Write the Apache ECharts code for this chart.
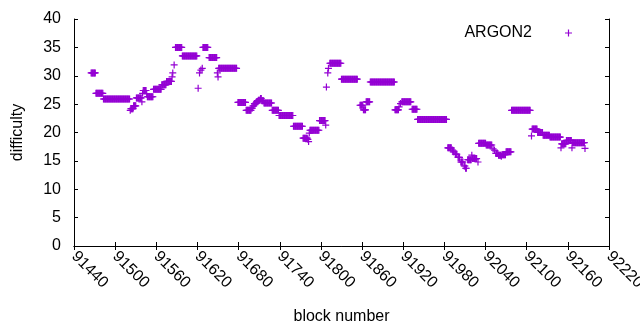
<!DOCTYPE html>
<html>
<head>
<meta charset="utf-8">
<script src="https://cdn.jsdelivr.net/npm/echarts@6/dist/echarts.min.js"></script>
<style>
html, body { margin: 0; padding: 0; background: #fff; }
#chart { width: 640px; height: 330px; }
</style>
</head>
<body>
<div id="chart"></div>
<script>
// runs of consecutive blocks with the same difficulty
var runStart = [91465, 91472, 91483, 91522, 91523, 91527, 91531, 91539, 91540, 91541, 91546, 91547, 91556, 91568, 91575, 91583, 91584, 91586, 91588, 91598,
  91621, 91623, 91625, 91627, 91628, 91637, 91649, 91650, 91651, 91679, 91691, 91699, 91701, 91703, 91706, 91709, 91712, 91714, 91717, 91729,
  91739, 91760, 91774, 91781, 91782, 91783, 91784, 91798, 91807, 91808, 91810, 91811, 91813, 91830, 91857, 91862, 91866, 91872, 91908, 91914,
  91916, 91918, 91933, 91941, 91985, 91992, 91993, 91996, 92000, 92004, 92009, 92011, 92014, 92020, 92021, 92029, 92030, 92041, 92051, 92053,
  92055, 92059, 92063, 92064, 92070, 92078, 92107, 92108, 92116, 92124, 92134, 92150, 92151, 92158, 92166, 92167, 92185];
var runEnd = [91471, 91482, 91521, 91522, 91526, 91530, 91538, 91539, 91540, 91545, 91546, 91555, 91567, 91574, 91582, 91583, 91584, 91586, 91597, 91619,
  91621, 91623, 91625, 91627, 91635, 91648, 91649, 91650, 91677, 91690, 91698, 91700, 91702, 91705, 91708, 91711, 91713, 91716, 91728, 91738,
  91759, 91773, 91780, 91781, 91782, 91783, 91797, 91806, 91807, 91808, 91810, 91811, 91829, 91853, 91861, 91865, 91871, 91907, 91913, 91914,
  91916, 91931, 91940, 91983, 91990, 91992, 91994, 91998, 92002, 92007, 92010, 92012, 92019, 92020, 92027, 92029, 92040, 92049, 92051, 92053,
  92058, 92062, 92063, 92069, 92077, 92105, 92107, 92115, 92123, 92133, 92149, 92150, 92157, 92165, 92166, 92184, 92185];
var runDifficulty = [30.5, 26.9, 25.9, 23.9, 24.2, 24.7, 26.1, 25.4, 26.9, 27.4, 26.8, 26.3, 27.6, 28.4, 29.0, 29.8, 30.5, 31.9, 35.0, 33.5,
  27.8, 30.5, 31.0, 31.3, 35.0, 33.2, 30.5, 29.8, 31.3, 25.3, 23.9, 24.3, 24.7, 25.1, 25.4, 25.7, 26.0, 25.6, 25.2, 23.9,
  23.0, 21.1, 19.0, 18.8, 18.4, 19.9, 20.4, 22.1, 21.3, 28.0, 30.5, 31.3, 32.2, 29.4, 24.8, 24.0, 25.4, 28.9, 24.0, 24.5,
  25.1, 25.4, 24.1, 22.3, 17.3, 16.9, 16.6, 16.2, 15.6, 14.8, 14.1, 13.7, 15.2, 16.0, 15.4, 14.8, 18.1, 17.8, 17.1, 16.9,
  16.3, 16.0, 15.8, 16.1, 16.6, 23.9, 19.4, 20.6, 20.0, 19.5, 19.2, 17.3, 18.0, 18.6, 17.3, 18.2, 17.2];

var seriesName = 'ARGON2';
var plusPath = 'path://M2.9,0h1.2v7h-1.2z M0,2.9h7v1.2h-7z';
var ink = '#000';
var font = 'Liberation Sans';

// one point per block
var points = [];
for (var i = 0; i < runStart.length; i++) {
  for (var b = runStart[i]; b <= runEnd[i]; b++) {
    points.push([b, runDifficulty[i]]);
  }
}

var myChart = echarts.init(document.getElementById('chart'));

var xBase = {
  type: 'value', min: 91440, max: 92220, interval: 60,
  splitLine: { show: false },
  axisLine: { lineStyle: { color: ink, width: 1 } },
  axisTick: { inside: true, length: 4, lineStyle: { color: ink } }
};
var yBase = {
  type: 'value', min: 0, max: 40, interval: 5,
  splitLine: { show: false },
  axisLine: { show: true, lineStyle: { color: ink, width: 1 } },
  axisTick: { show: true, inside: true, length: 4, lineStyle: { color: ink } }
};

var option = {
  animation: false,
  backgroundColor: '#fff',
  textStyle: { fontFamily: font },
  grid: { left: 74, right: 31, top: 19, bottom: 84, containLabel: false, outerBoundsMode: 'none' },
  legend: {
    data: [seriesName],
    right: 68, top: 25, padding: 0,
    align: 'right',
    icon: plusPath,
    itemWidth: 7, itemHeight: 7,
    textStyle: { color: ink, fontSize: 16, fontFamily: font, padding: [0, 28, 0, 0] }
  },
  xAxis: [
    Object.assign({}, xBase, {
      position: 'bottom',
      name: 'block number', nameLocation: 'middle', nameGap: 63,
      nameTextStyle: { color: ink, fontSize: 16, fontFamily: font },
      axisLabel: {
        rotate: -45, margin: 8, color: ink, fontSize: 16, fontFamily: font,
        formatter: function (v) { return String(v); }
      }
    }),
    Object.assign({}, xBase, { position: 'top', axisLabel: { show: false } })
  ],
  yAxis: [
    Object.assign({}, yBase, {
      position: 'left',
      name: 'difficulty', nameLocation: 'middle', nameGap: 48, nameRotate: 90,
      nameTextStyle: { color: ink, fontSize: 16, fontFamily: font },
      axisLabel: { margin: 13, color: ink, fontSize: 16, fontFamily: font }
    }),
    Object.assign({}, yBase, { position: 'right', axisLabel: { show: false } })
  ],
  series: [{
    name: seriesName,
    type: 'scatter',
    xAxisIndex: 0, yAxisIndex: 0,
    symbol: plusPath,
    symbolSize: 7,
    itemStyle: { color: '#9400d3', opacity: 1 },
    data: points
  }]
};
myChart.setOption(option);
</script>
</body>
</html>
